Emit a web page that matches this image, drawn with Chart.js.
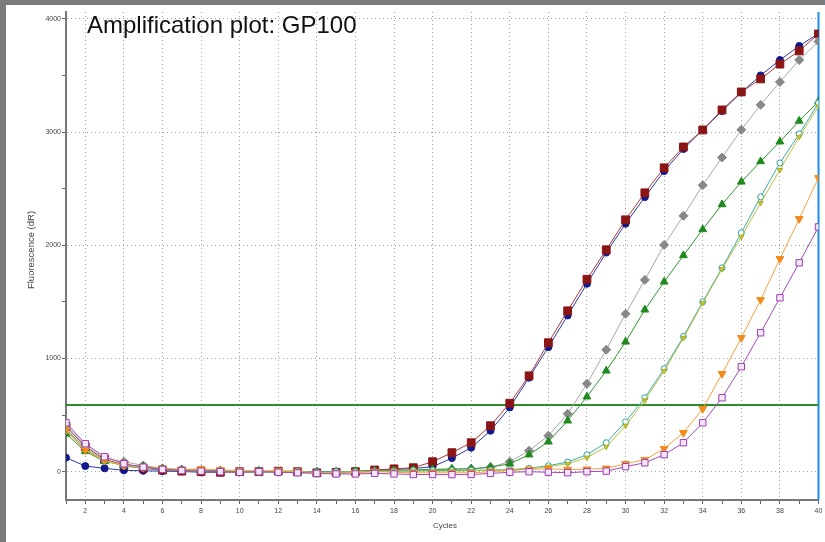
<!DOCTYPE html>
<html>
<head>
<meta charset="utf-8">
<script src="https://cdn.jsdelivr.net/npm/chart.js@4/dist/chart.umd.min.js"></script>
<style>
  html, body { margin: 0; padding: 0; background: #fff; }
  #wrap { position: relative; width: 825px; height: 542px; }
  canvas { display: block; }
</style>
</head>
<body>
<div id="wrap"><canvas id="c" width="825" height="542"></canvas></div>
<script>
const cycles = [1,2,3,4,5,6,7,8,9,10,11,12,13,14,15,16,17,18,19,20,21,22,23,24,25,26,27,28,29,30,31,32,33,34,35,36,37,38,39,40];

const blueSeries   = [124,50,30,12,8,5,2,-5,-3,0,-2,0,3,-5,0,2,12,20,28,44,120,212,362,568,830,1100,1380,1660,1935,2190,2425,2655,2850,3020,3185,3350,3500,3636,3760,3870];
const redSeries    = [400,220,110,60,30,15,5,0,-5,0,0,5,0,-10,-5,0,15,25,35,88,168,256,406,605,847,1139,1421,1700,1960,2225,2463,2684,2868,3018,3195,3354,3469,3600,3716,3866];
const graySeries   = [415,230,120,88,55,30,20,15,10,5,5,0,0,-5,0,0,5,10,10,15,20,25,40,88,185,318,512,777,1077,1394,1694,2003,2260,2530,2775,3020,3240,3442,3636,3800];
const greenSeries  = [335,180,90,60,45,25,15,10,5,0,5,0,-10,0,-5,5,5,10,15,20,25,25,40,70,150,265,450,662,891,1147,1430,1677,1910,2140,2360,2560,2740,2915,3098,3270];
const tealSeries   = [380,200,100,50,30,20,10,5,0,0,-5,0,5,-5,0,0,5,5,10,10,10,12,15,18,30,53,85,150,256,441,653,909,1195,1500,1800,2110,2427,2727,2983,3257];
const oliveSeries  = [360,190,95,55,35,20,10,5,0,-5,0,0,0,-10,-5,0,0,5,5,5,5,8,12,15,25,45,70,124,220,406,630,890,1180,1490,1790,2074,2374,2665,2957,3225];
const orangeSeries = [370,190,100,55,40,30,20,25,15,10,5,10,5,-10,-15,-10,0,-5,-10,-10,-10,-10,0,10,20,25,20,22,30,70,106,203,344,556,865,1183,1518,1880,2233,2595];
const purpleSeries = [432,247,132,70,40,20,10,5,0,-5,0,-5,-10,-15,-20,-20,-15,-20,-25,-25,-26,-25,-15,-5,0,-5,-9,0,5,44,79,150,256,432,653,927,1227,1536,1845,2162];

const thresholdValue = 590;
const xTickLabels = [2,4,6,8,10,12,14,16,18,20,22,24,26,28,30,32,34,36,38,40];
const yTickLabels = [0,1000,2000,3000,4000];
const yTickMarks = [0,500,1000,1500,2000,2500,3000,3500,4000];
const xRange = [1, 40];
const yRange = [-250, 4060];

const pts = vals => cycles.map((c, i) => ({ x: c, y: vals[i] }));

function series(vals, color, line, style, radius, fill, rotation) {
  return {
    data: pts(vals),
    borderColor: line,
    borderWidth: 1,
    pointStyle: style,
    pointRadius: radius,
    pointRotation: rotation || 0,
    pointBackgroundColor: fill || color,
    pointBorderColor: color,
    pointBorderWidth: 1,
    tension: 0,
    fill: false
  };
}

const datasets = [
  series(purpleSeries, '#9b3fb3', '#a04ab8', 'rect', 4.5, '#f3e6f7'),
  series(orangeSeries, '#f28c1c', '#f5a040', 'triangle', 4.5, '#f28c1c', 180),
  series(oliveSeries, '#a7b02a', '#b8c040', 'triangle', 3, '#c8c830', 180),
  series(tealSeries, '#2aa2a0', '#3aaaa8', 'circle', 3, '#ffffff'),
  series(greenSeries, '#1e8a1e', '#2f962f', 'triangle', 4.5),
  series(graySeries, '#888888', '#a8a8a8', 'rectRot', 4.5),
  series(redSeries, '#8b1414', '#a83a3a', 'rect', 5.5),
  series(blueSeries, '#101a8c', '#2a3aa8', 'circle', 3.5),
  {
    data: [{ x: xRange[0], y: thresholdValue }, { x: xRange[1], y: thresholdValue }],
    borderColor: '#2e8b2e', borderWidth: 2, pointRadius: 0, fill: false
  },
  {
    data: [{ x: xRange[1], y: yRange[0] }, { x: xRange[1], y: yRange[1] }],
    borderColor: '#1a8fdc', borderWidth: 2, pointRadius: 0, fill: false, clip: false
  }
];

const decor = {
  id: 'decor',
  beforeDraw(chart) {
    const ctx = chart.ctx;
    ctx.save();
    ctx.fillStyle = '#ffffff';
    ctx.fillRect(0, 0, chart.width, chart.height);
    ctx.fillStyle = '#7b7b7b';
    ctx.fillRect(0, 0, chart.width, 5);
    ctx.fillRect(0, 0, 6, chart.height);
    ctx.restore();
  },
  afterDraw(chart) {
    const ctx = chart.ctx;
    ctx.save();
    ctx.fillStyle = '#111111';
    ctx.font = '24px "Liberation Sans", Arial, sans-serif';
    ctx.textBaseline = 'alphabetic';
    ctx.fillText('Amplification plot: GP100', 87, 33);
    ctx.fillStyle = '#444444';
    ctx.font = '8px "Liberation Sans", Arial, sans-serif';
    ctx.textAlign = 'left';
    ctx.textBaseline = 'middle';
    ctx.fillText('Cycles', 433, 526);
    ctx.translate(31, 250);
    ctx.rotate(-Math.PI / 2);
    ctx.textAlign = 'center';
    ctx.font = '9.5px "Liberation Sans", Arial, sans-serif';
    ctx.fillText('Fluorescence (dR)', 0, 0);
    ctx.restore();
  }
};

new Chart(document.getElementById('c'), {
  type: 'line',
  data: { datasets },
  plugins: [decor],
  options: {
    responsive: false,
    animation: false,
    devicePixelRatio: 1,
    layout: { padding: { left: 0, top: 12, right: 3, bottom: 0 } },
    plugins: { legend: { display: false }, tooltip: { enabled: false }, title: { display: false } },
    scales: {
      x: {
        type: 'linear',
        min: xRange[0], max: xRange[1],
        afterFit(s) { s.height = 42; s.paddingLeft = 0; s.paddingRight = 0; },
        ticks: {
          stepSize: 1, autoSkip: false, maxRotation: 0, padding: 3,
          color: '#444', font: { size: 7, family: '"Liberation Sans", Arial, sans-serif' },
          callback: v => xTickLabels.includes(v) ? String(v) : ''
        },
        grid: {
          color: c => (c.tick && c.tick.value % 2 === 0) ? '#a0a0a0' : 'rgba(0,0,0,0)',
          lineWidth: 1,
          drawTicks: true, tickLength: 4, tickColor: '#666', tickWidth: 1
        },
        border: { display: true, color: '#777', width: 2, dash: [1, 3] }
      },
      y: {
        type: 'linear',
        min: yRange[0], max: yRange[1],
        afterBuildTicks(s) { s.ticks = yTickMarks.map(v => ({ value: v })); },
        afterFit(s) { s.width = 66; s.paddingTop = 0; s.paddingBottom = 0; },
        ticks: {
          autoSkip: false, padding: 1,
          color: '#444', font: { size: 7, family: '"Liberation Sans", Arial, sans-serif' },
          callback: v => yTickLabels.includes(v) ? String(v) : ''
        },
        grid: {
          color: c => (c.tick && c.tick.value % 1000 === 0) ? '#a0a0a0' : 'rgba(0,0,0,0)',
          lineWidth: 1,
          drawTicks: true, tickLength: 4,
          tickColor: '#666',
          tickWidth: 1
        },
        border: { display: true, color: '#777', width: 2, dash: [1, 3] }
      }
    }
  }
});
</script>
</body>
</html>
